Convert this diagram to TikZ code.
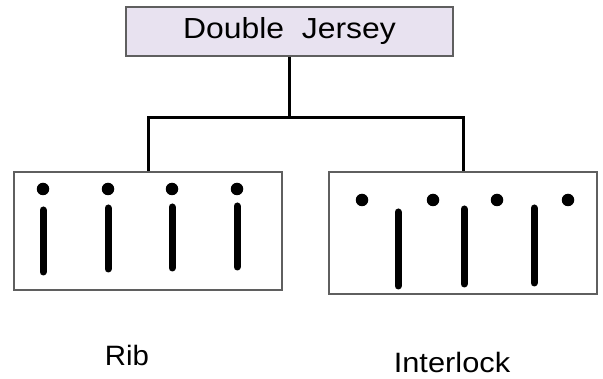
\documentclass[tikz,border=0pt]{standalone}
\usepackage{fontspec}
\setmainfont{Liberation Sans}
\usepackage{graphicx}
\definecolor{lav}{RGB}{232,226,240}
\definecolor{edge}{RGB}{95,95,95}
\begin{document}
\begin{tikzpicture}[x=1pt,y=-1pt,
  frame/.style={draw=edge,line width=1.5pt},
  conn/.style={line width=3pt,black},
  needle/.style={line width=7pt,line cap=round,black},
  loop/.style={fill=black,circle,inner sep=0pt,minimum size=12.5pt},
  lbl/.style={inner sep=0pt,font=\fontsize{28}{30}\selectfont}]
\useasboundingbox (0,0) rectangle (603,379);
% top box
\node[frame,fill=lav,minimum width=327pt,minimum height=49pt,inner sep=0pt] (top) at (289.5,31.5) {\scalebox{1.1}[1]{\fontsize{29}{30}\selectfont Double\ \ Jersey}};
% boxes
\node[frame,minimum width=268pt,minimum height=118pt,inner sep=0pt] (rib) at (148,231) {};
\node[frame,minimum width=268pt,minimum height=122pt,inner sep=0pt] (inter) at (463,233) {};
% connectors
\coordinate (j) at (289.5,118);
\draw[conn] (top.south -| j) -- (j);
\draw[conn] (rib.north) |- (j) -| (inter.north);
% rib
\foreach \x/\a/\b in {43/210/272, 108/208/269, 172/207/268, 237/206/267}{
  \node[loop] at (\x,189) {};
  \draw[needle] (\x,\a) -- (\x,\b);
}
% interlock
\foreach \x in {362,433,497,568}{ \node[loop] at (\x,200) {}; }
\foreach \x/\a/\b in {398/212/286, 464/209/284, 534/208/283}{
  \draw[needle] (\x,\a) -- (\x,\b);
}
\node[lbl] (ribl) at (127,355) {\scalebox{1.05}[1]{Rib}};
\node[lbl] (intl) at (452,362) {\scalebox{1.1}[1]{Interlock}};
\end{tikzpicture}
\end{document}
